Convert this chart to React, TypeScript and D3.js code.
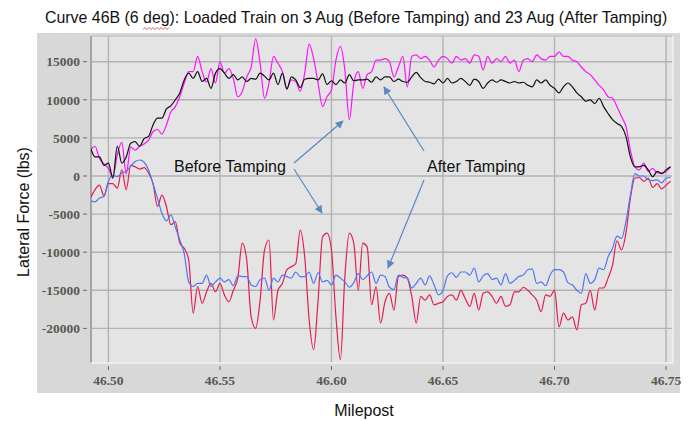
import React, { useLayoutEffect, useRef, useState } from "react";
import * as d3 from "d3";

// Lateral force samples, one every 0.002 milepost starting at 46.492
const X_START = 46.492;
const X_STEP = 0.002;

// 3 Aug, before tamping (high rail side, magenta)
const beforeTop = [
  3400, 3900, 2300, 1600, 1000, -100, 2800, 4400, 300, 3800,
  3400, 3900, 4200, 4700, 5800, 6100, 5500, 6700, 8400, 9100,
  10400, 12200, 13700, 13700, 15700, 13700, 12300, 14100, 12200, 15000,
  13500, 14100, 12800, 10400, 11100, 13000, 14300, 18000, 14800, 10200,
  12200, 15700, 14800, 13700, 11500, 12600, 12400, 11100, 13500, 17300,
  15400, 12200, 9100, 10400, 11300, 15200, 17000, 13900, 7400, 12200,
  13700, 11500, 13300, 13700, 15200, 15200, 15400, 15000, 13000, 14300,
  15700, 11700, 15700, 15900, 15400, 15700, 15200, 14300, 15200, 15700,
  15400, 14800, 15700, 15200, 15400, 14800, 15900, 15700, 13900, 15700,
  14800, 15400, 15000, 15700, 14800, 15200, 13700, 15200, 15400, 15000,
  15900, 15400, 15200, 15700, 15700, 16300, 15700, 15700, 15200, 15000,
  14300, 13700, 13300, 12600, 11900, 11300, 10400, 10200, 9100, 7800,
  6500, 3400, 1200, 800, 1700, 600, 1000, 400, 400, 600,
  1200,
];

// 23 Aug, after tamping (high rail side, black)
const afterTop = [
  3700, 2500, 2500, 1400, 1700, -300, 3900, 1700, 2500, 4300,
  4500, 3900, 4900, 5200, 6700, 7600, 7600, 8800, 9200, 10000,
  10900, 12600, 13500, 12800, 13700, 12400, 12800, 11500, 13500, 14100,
  13500, 12800, 13300, 12600, 13000, 12400, 12800, 12700, 13500, 13100,
  12600, 13500, 12000, 13500, 11400, 13000, 12600, 11600, 12700, 12800,
  12800, 12600, 13400, 12000, 12500, 12000, 12600, 12200, 13300, 12500,
  12600, 12600, 12700, 12300, 13000, 12600, 13000, 13000, 12400, 12700,
  12400, 12300, 13000, 13600, 12900, 12400, 12300, 12100, 12700, 12200,
  12800, 12200, 12400, 12800, 12400, 11900, 12700, 12400, 11500, 12200,
  12600, 12300, 12600, 12400, 12200, 12400, 12200, 12300, 11900, 11700,
  12600, 12200, 12600, 11900, 11500, 10900, 11700, 12200, 11700, 10900,
  10400, 9800, 10000, 9500, 10200, 9100, 8200, 7400, 6900, 6500,
  5200, 2500, 1200, 1200, 1400, 800, -100, 600, 300, 800,
  1200,
];

// 23 Aug, after tamping (low rail side, blue)
const afterBottom = [
  -3200, -3400, -2900, -2700, -700, 100, -100, 400, 600, 1300,
  1900, 2100, 1800, 800, -1000, -2900, -4900, -5900, -5100, -6700,
  -8400, -10200, -13900, -14500, -14100, -14100, -13000, -14500, -13900, -13400,
  -13900, -13600, -14400, -13100, -13200, -13200, -14300, -14500, -13600, -13400,
  -15000, -13400, -13900, -13000, -13200, -13400, -12600, -13200, -13200, -12600,
  -14100, -12700, -13900, -13700, -14300, -13000, -13400, -13900, -14600, -14000,
  -12800, -13600, -13100, -12600, -14100, -13000, -13200, -14600, -14900, -13000,
  -13300, -13400, -14700, -14100, -13400, -14300, -13100, -14300, -15600, -15000,
  -13100, -12700, -13300, -12600, -12600, -13000, -12100, -13900, -13100, -12800,
  -13600, -13400, -14300, -12800, -14100, -13700, -13200, -13000, -12300, -12200,
  -14100, -13900, -14400, -13000, -12300, -12300, -12600, -14000, -14300, -15000,
  -15400, -12800, -14100, -13600, -12100, -12300, -10600, -9500, -7900, -8200,
  -6000, -2500, 300, 0, 0, -500, -600, -500, -900, -300,
  -200,
];

// 3 Aug, before tamping (low rail side, crimson)
const beforeBottom = [
  -2900, -1800, -1200, -2600, -1000, -1000, -1600, 800, -1800, 1400,
  1200, 900, 1100, 400, -1000, -4000, -2500, -4000, -6400, -6000,
  -8800, -9500, -11000, -18000, -14500, -16700, -15200, -14100, -15200, -14100,
  -15600, -16500, -15000, -13400, -8800, -11000, -18500, -20000, -16300, -9700,
  -8400, -18900, -15000, -14100, -12300, -11900, -11500, -7100, -10600, -18900,
  -22800, -16300, -8000, -7500, -9700, -18500, -24100, -13200, -7500, -8800,
  -15000, -8800, -9300, -16900, -14500, -19300, -16500, -15400, -17600, -13200,
  -13000, -13400, -15800, -19300, -15800, -16300, -15600, -16900, -16700, -16500,
  -15800, -15600, -16300, -15000, -16100, -17100, -15400, -17600, -15400, -15200,
  -15800, -16700, -15800, -17100, -16900, -15200, -15200, -14600, -15000, -15600,
  -16300, -17800, -15600, -15800, -15000, -19800, -18000, -18900, -18500, -20200,
  -16900, -16700, -15000, -17600, -14700, -14700, -13400, -11700, -8500, -9700,
  -7500, -2900, -300, -200, -700, -300, -1500, -1000, -1700, -1200,
  -700,
];

const xTicks = [46.5, 46.55, 46.6, 46.65, 46.7, 46.75];
const yTicks = [-20000, -15000, -10000, -5000, 0, 5000, 10000, 15000];

const series = [
  { name: "before-bottom", values: beforeBottom, color: "#e41d50" },
  { name: "after-bottom", values: afterBottom, color: "#5077f2" },
  { name: "before-top", values: beforeTop, color: "#ff10ff" },
  { name: "after-top", values: afterTop, color: "#111111" },
];

const W = 696;
const H = 421;
const plot = { left: 91, right: 673, top: 36, bottom: 363 };

export default function App() {
  const degRef = useRef<SVGTSpanElement>(null);
  const [deg, setDeg] = useState<{ x: number; w: number } | null>(null);

  useLayoutEffect(() => {
    const b = degRef.current?.getBBox();
    if (b) setDeg({ x: b.x, w: b.width });
  }, []);

  const x = d3.scaleLinear().domain([46.4922, 46.7531]).range([plot.left, plot.right]);
  const y = d3.scaleLinear().domain([-24540, 18370]).range([plot.bottom, plot.top]);

  const line = d3
    .line<number>()
    .x((_, i) => x(X_START + i * X_STEP))
    .y((d) => y(d))
    .curve(d3.curveMonotoneX);

  // spell-check squiggle under "deg"
  let squiggle = "";
  if (deg) {
    const pts = d3.range(0, Math.floor(deg.w / 2) + 1).map((k) => [deg.x + k * 2, 28.5 + (k % 2 ? -1 : 1)]);
    squiggle = d3.line()(pts as [number, number][]) ?? "";
  }

  const tickFont = { fontFamily: "'Liberation Serif', 'Times New Roman', serif", fontWeight: 700, fontSize: 13.5, fill: "#5a5753" };
  const labelFont = { fontFamily: "'Liberation Sans', Arial, sans-serif", fill: "#111" };
  const arrowColor = "#5b88c4";

  return (
    <div style={{ position: "absolute", left: 0, top: 0 }}>
      <svg width={W} height={H} style={{ display: "block", background: "#fff" }}>
        <defs>
          <clipPath id="plotClip">
            <rect x={plot.left} y={plot.top} width={plot.right - plot.left} height={plot.bottom - plot.top} />
          </clipPath>
          <marker id="arrowHead" viewBox="0 0 10 10" refX="9" refY="5" markerWidth="9" markerHeight="8" markerUnits="userSpaceOnUse" orient="auto">
            <path d="M0,0 L10,5 L0,10 z" fill={arrowColor} />
          </marker>
        </defs>

        {/* title */}
        <text x={45} y={22.7} fontSize={15.9} {...labelFont}>
          Curve 46B (6 <tspan ref={degRef}>deg</tspan>): Loaded Train on 3 Aug (Before Tamping) and 23 Aug (After Tamping)
        </text>
        {squiggle && <path d={squiggle} fill="none" stroke="#e03030" strokeWidth={0.8} />}

        {/* panel + plot background */}
        <rect x={37} y={33} width={643} height={360} fill="#d8d8d8" />
        <rect x={plot.left} y={plot.top} width={plot.right - plot.left} height={plot.bottom - plot.top} fill="#e4e4e4" />

        {/* grid */}
        {xTicks.map((t) => (
          <line key={"gx" + t} x1={x(t)} x2={x(t)} y1={plot.top} y2={plot.bottom} stroke="#b2b2b2" strokeWidth={1.4} />
        ))}
        {yTicks.map((t) => (
          <line key={"gy" + t} x1={plot.left} x2={plot.right} y1={y(t)} y2={y(t)} stroke="#b2b2b2" strokeWidth={1.4} />
        ))}

        {/* frame */}
        <line x1={plot.left} x2={plot.left} y1={plot.top} y2={plot.bottom} stroke="#a3a3a3" strokeWidth={2} />
        <line x1={plot.left} x2={plot.right} y1={plot.top} y2={plot.top} stroke="#c4c4c4" strokeWidth={1.5} />
        <line x1={plot.left} x2={plot.right} y1={plot.bottom} y2={plot.bottom} stroke="#f2f2f2" strokeWidth={1.5} />
        <line x1={plot.right} x2={plot.right} y1={plot.top} y2={plot.bottom} stroke="#f2f2f2" strokeWidth={1.5} />

        {/* y axis ticks */}
        {yTicks.map((t) => (
          <g key={"ty" + t}>
            <line x1={83} x2={87} y1={y(t)} y2={y(t)} stroke="#6a6a6a" strokeWidth={1} />
            <text x={80} y={y(t)} dy="0.35em" textAnchor="end" {...tickFont}>
              {t}
            </text>
          </g>
        ))}

        {/* x axis ticks */}
        {xTicks.map((t) => (
          <g key={"tx" + t}>
            <line x1={x(t)} x2={x(t)} y1={366} y2={370} stroke="#6a6a6a" strokeWidth={1} />
            <text x={x(t)} y={385} textAnchor="middle" {...tickFont}>
              {t.toFixed(2)}
            </text>
          </g>
        ))}

        {/* series */}
        <g clipPath="url(#plotClip)">
          {series.map((s) => (
            <path key={s.name} d={line(s.values) ?? ""} fill="none" stroke={s.color} strokeWidth={1.2} />
          ))}
        </g>

        {/* annotations */}
        <text x={174} y={172} fontSize={16} {...labelFont}>
          Before Tamping
        </text>
        <text x={427} y={172} fontSize={16} {...labelFont}>
          After Tamping
        </text>
        <line x1={294} y1={163} x2={343} y2={121} stroke={arrowColor} strokeWidth={1.2} markerEnd="url(#arrowHead)" />
        <line x1={294} y1={169} x2={322} y2={213} stroke={arrowColor} strokeWidth={1.2} markerEnd="url(#arrowHead)" />
        <line x1={424} y1={151} x2={384} y2={87} stroke={arrowColor} strokeWidth={1.2} markerEnd="url(#arrowHead)" />
        <line x1={424} y1={180} x2={388} y2={268} stroke={arrowColor} strokeWidth={1.2} markerEnd="url(#arrowHead)" />

        {/* axis titles */}
        <text x={364} y={416} textAnchor="middle" fontSize={16} {...labelFont}>
          Milepost
        </text>
        <text transform="translate(29,212) rotate(-90)" textAnchor="middle" fontSize={16} {...labelFont}>
          Lateral Force (lbs)
        </text>
      </svg>
    </div>
  );
}
